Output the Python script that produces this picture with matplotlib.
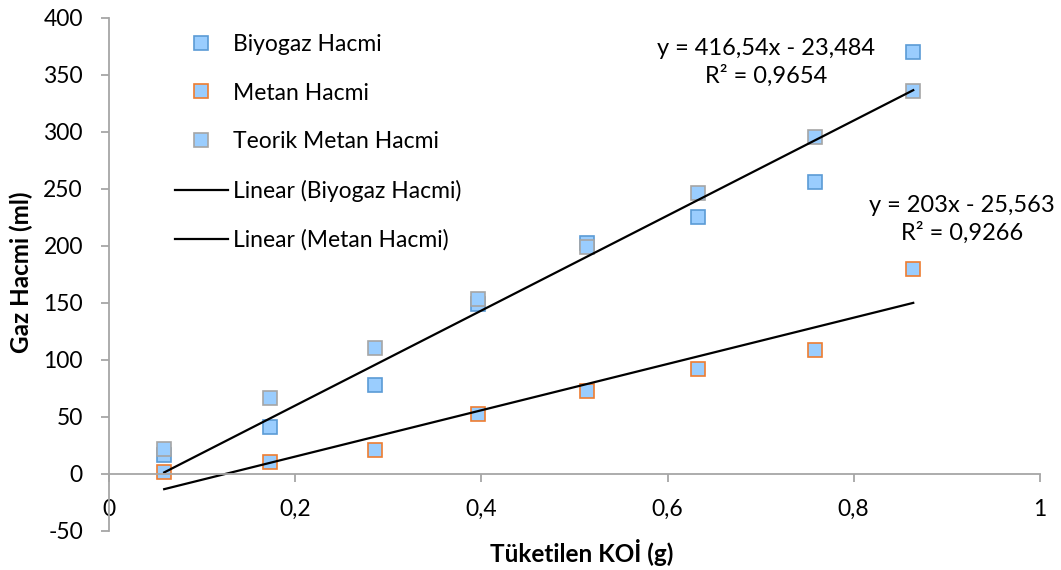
import numpy as np
import matplotlib
matplotlib.use('Agg')
import matplotlib.pyplot as plt

plt.rcParams['font.family'] = ['Lato', 'DejaVu Sans']
plt.rcParams['axes.unicode_minus'] = False

# data
koi = [0.059, 0.173, 0.286, 0.396, 0.513, 0.633, 0.758, 0.864]
biyogaz = [16.5, 40.7, 77.8, 149, 202, 225, 255.6, 369.6]
metan = [1.5, 10, 20.8, 52.4, 72.3, 91.6, 108.5, 179.6]
teorik = [21.7, 66.7, 110, 153, 198.6, 246, 295, 335.7]

# trendline coefficients (slope, intercept) from the chart labels
fit_biyogaz = [416.54, -23.484]
fit_metan = [203, -25.563]
eq_biyogaz = "y = 416,54x - 23,484\nR² = 0,9654"
eq_metan = "y = 203x - 25,563\nR² = 0,9266"

xticks = [0, 0.2, 0.4, 0.6, 0.8, 1]
xtick_labels = ['0', '0,2', '0,4', '0,6', '0,8', '1']
yticks = [-50, 0, 50, 100, 150, 200, 250, 300, 350, 400]

fill = '#9ACDFE'
axis_col = '#A6A6A6'

fig = plt.figure(figsize=(10.61, 5.70), dpi=100)
ax = fig.add_axes([0.103, 0.069, 0.877, 0.900])

ms = 10
ax.plot(koi, biyogaz, 's', ms=ms, mfc=fill, mec='#5B9BD5', mew=1.2, label='Biyogaz Hacmi')
ax.plot(koi, metan, 's', ms=ms, mfc=fill, mec='#ED7D31', mew=1.2, label='Metan Hacmi')
ax.plot(koi, teorik, 's', ms=ms, mfc=fill, mec='#A5A5A5', mew=1.2, label='Teorik Metan Hacmi')

xs = np.array([min(koi), max(koi)])
ax.plot(xs, fit_biyogaz[0] * xs + fit_biyogaz[1], color='black', lw=1.6, label='Linear (Biyogaz Hacmi)')
ax.plot(xs, fit_metan[0] * xs + fit_metan[1], color='black', lw=1.6, label='Linear (Metan Hacmi)')

ax.text(0.7056, 361, eq_biyogaz, ha='center', va='center', fontsize=17, linespacing=1.3)
ax.text(0.9167, 223, eq_metan, ha='center', va='center', fontsize=17, linespacing=1.3)

ax.set_xlim(0, 1)
ax.set_ylim(-50, 400)
ax.set_xticks(xticks)
ax.set_xticklabels(xtick_labels)
ax.set_yticks(yticks)

ax.spines['top'].set_visible(False)
ax.spines['right'].set_visible(False)
ax.spines['bottom'].set_position(('data', 0))
for s in ['left', 'bottom']:
    ax.spines[s].set_color(axis_col)
    ax.spines[s].set_linewidth(1.3)

ax.tick_params(axis='x', direction='out', length=6, width=1.3, color=axis_col, labelsize=16.5, pad=12)
ax.tick_params(axis='y', direction='out', length=6, width=1.3, color=axis_col, labelsize=16.5, pad=13)

ax.set_xlabel('Tüketilen KOİ (g)', fontsize=17.5, fontweight='bold', va='center')
ax.xaxis.set_label_coords(582 / 1061, 1 - 553 / 570, transform=fig.transFigure)
ax.set_ylabel('Gaz Hacmi (ml)', fontsize=17.5, fontweight='bold', va='center')
ax.yaxis.set_label_coords(21 / 1061, 1 - 272 / 570, transform=fig.transFigure)

ax.legend(loc='upper left', bbox_to_anchor=(175 / 1061, 1 - 34 / 570), bbox_transform=fig.transFigure,
          frameon=False, fontsize=16.5, handlelength=2.3, handletextpad=0.25, labelspacing=1.2,
          borderpad=0, borderaxespad=0)

fig.savefig('out.png', dpi=100)
